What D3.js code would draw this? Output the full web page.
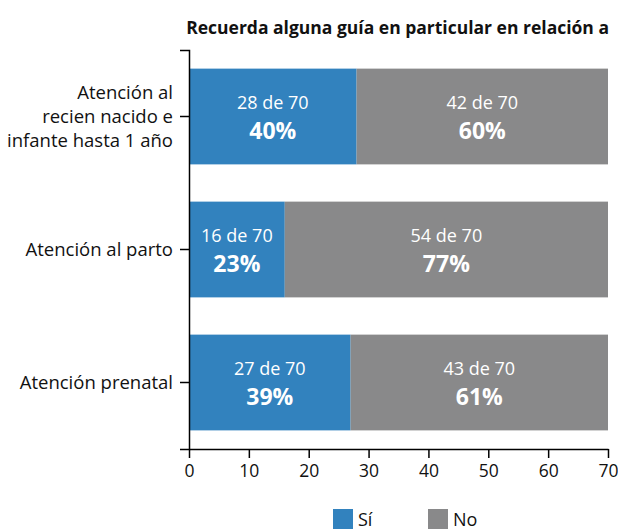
<!DOCTYPE html>
<html>
<head>
<meta charset="utf-8">
<script src="https://cdn.jsdelivr.net/npm/d3@7"></script>
<style>
  body { margin: 0; background: #fff; }
  text { font-family: "Open Sans", "Noto Sans", sans-serif; }
</style>
</head>
<body>
<svg id="chart" width="618" height="530"></svg>
<script>
const categories = [
    ["Atención al", "recien nacido e", "infante hasta 1 año"],
    ["Atención al parto"],
    ["Atención prenatal"]
];
const siValues = [28, 16, 27];
const noValues = [42, 54, 43];
const siPct = [40, 23, 39];
const noPct = [60, 77, 61];
const total = 70;
const xTicks = [0, 10, 20, 30, 40, 50, 60, 70];
const seriesNames = ["Sí", "No"];
const colors = ["#3282be", "#89898a"];

const svg = d3.select("svg#chart");

const x = d3.scaleLinear()
    .domain([0, 70])
    .range([189, 608]);

const y = d3.scaleBand()
    .domain(d3.range(categories.length))
    .range([50, 449])
    .paddingInner(0.28)
    .paddingOuter(0.14);

// title
svg.append("text")
    .attr("x", 609)
    .attr("y", 34)
    .attr("text-anchor", "end")
    .style("font-size", "17.5px")
    .style("font-weight", "bold")
    .attr("fill", "#111")
    .text("Recuerda alguna guía en particular en relación a");

// bars
const rows = categories.map((c, i) => ({
    i: i,
    parts: [
        {s: 0, x0: 0, x1: siValues[i], n: siValues[i], p: siPct[i]},
        {s: 1, x0: siValues[i], x1: siValues[i] + noValues[i], n: noValues[i], p: noPct[i]}
    ]
}));

const g = svg.append("g");
rows.forEach(r => {
    r.parts.forEach(d => {
        g.append("rect")
            .attr("x", x(d.x0))
            .attr("y", y(r.i))
            .attr("width", x(d.x1) - x(d.x0))
            .attr("height", y.bandwidth())
            .attr("fill", colors[d.s]);

        const cx = (x(d.x0) + x(d.x1)) / 2;
        const cy = y(r.i) + y.bandwidth() / 2;
        g.append("text")
            .attr("x", cx)
            .attr("y", cy - 8)
            .attr("text-anchor", "middle")
            .attr("fill", "#fff")
            .style("font-size", "18px")
            .text(d.n + " de " + total);
        g.append("text")
            .attr("x", cx)
            .attr("y", cy + 22)
            .attr("text-anchor", "middle")
            .attr("fill", "#fff")
            .style("font-size", "23px")
            .style("font-weight", "bold")
            .text(d.p + "%");
    });
});

// y axis
const yAxis = svg.append("g")
    .attr("transform", "translate(189,0)")
    .call(d3.axisLeft(y).tickSizeOuter(0).tickSize(9).tickFormat(""));
yAxis.select(".domain").attr("stroke", "#000").attr("stroke-width", 1.5);
yAxis.selectAll(".tick line").attr("stroke", "#000").attr("stroke-width", 1.5);

categories.forEach((lines, i) => {
    const cy = y(i) + y.bandwidth() / 2;
    const lh = 24;
    const t = svg.append("text")
        .attr("text-anchor", "end")
        .attr("fill", "#111")
        .style("font-size", "18.5px");
    lines.forEach((l, k) => {
        t.append("tspan")
            .attr("x", 173)
            .attr("y", cy + 6 + (k - (lines.length - 1) / 2) * lh)
            .text(l);
    });
});

// x axis
const xAxis = svg.append("g")
    .attr("transform", "translate(0,449)")
    .call(d3.axisBottom(x).tickValues(xTicks).tickSize(9).tickSizeOuter(0));
xAxis.select(".domain").attr("stroke", "#000").attr("stroke-width", 1.5);
xAxis.selectAll(".tick line").attr("stroke", "#000").attr("stroke-width", 1.5);
xAxis.selectAll(".tick text")
    .attr("fill", "#111")
    .attr("dy", "0.71em")
    .attr("y", 16)
    .style("font-size", "17.5px")
    .style("font-family", "'Open Sans', sans-serif");

// legend
const legendX = [333, 428];
seriesNames.forEach((s, i) => {
    svg.append("rect")
        .attr("x", legendX[i])
        .attr("y", 509)
        .attr("width", 20)
        .attr("height", 20)
        .attr("fill", colors[i]);
    svg.append("text")
        .attr("x", legendX[i] + 25)
        .attr("y", 526)
        .attr("fill", "#111")
        .style("font-size", "18px")
        .text(s);
});
</script>
</body>
</html>
